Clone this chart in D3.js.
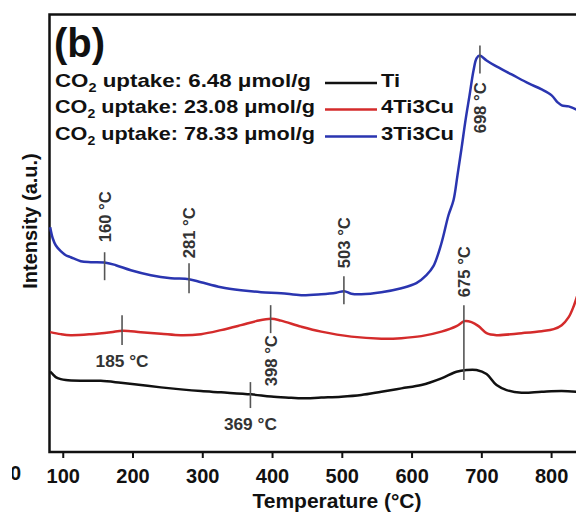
<!DOCTYPE html>
<html>
<head>
<meta charset="utf-8">
<script src="https://cdn.jsdelivr.net/npm/d3@7"></script>
<style>
  body { margin: 0; background: #fff; }
  text { font-family: 'Liberation Sans', Arial, sans-serif; font-weight: bold; }
</style>
</head>
<body>
<div id="graph-container"></div>
<script>
// TPD curves (temperature in °C, intensity in a.u.)
const tiTemp = [82, 85.6, 89.9, 97.1, 104.3, 125.8, 154.5, 183.3, 212, 240.7, 269.4, 298.1, 326.9, 370, 398.7, 427.4, 441.8, 470.5, 499.2, 527.9, 556.7, 585.4, 614.1, 642.8, 664.4, 678.7, 693.1, 707.5, 721.8, 736.2, 757.7, 786.5, 815.2, 838.2];
const tiValues = [80.5, 78, 75, 73, 72, 71.3, 71.3, 69.3, 67, 64.7, 62.7, 61, 59.7, 57.7, 55.5, 54.3, 53.7, 54.5, 55.3, 57, 60.3, 63.7, 67, 73.7, 80.3, 82, 82, 78, 67, 62, 59.3, 60.3, 61, 60.3];

const ti4Temp = [82, 97.1, 111.4, 140.2, 168.9, 186.1, 212, 240.7, 269.4, 298.1, 326.9, 355.6, 377.1, 398.7, 413, 441.8, 470.5, 513.6, 556.7, 585.4, 614.1, 642.8, 664.4, 675.9, 685.9, 696, 707.5, 721.8, 757.7, 786.5, 803.7, 815.2, 825.2, 832.4, 838.2];
const ti4Values = [120, 118, 117, 118, 120, 121.5, 120, 118.5, 117, 118, 122, 127, 131, 133.5, 131.5, 125.5, 120.5, 115.5, 113.5, 114, 116, 120.5, 126, 131, 130, 126, 119, 117, 119, 121, 123, 127, 135, 146, 158];

const ti3Temp = [82, 85.6, 89.9, 97.1, 104.3, 111.4, 125.8, 140.2, 161.7, 176.1, 197.6, 226.3, 255.1, 280.9, 298.1, 326.9, 355.6, 384.3, 413, 441.8, 470.5, 492, 503.5, 513.6, 527.9, 556.7, 585.4, 606.9, 621.3, 631.3, 642.8, 652.9, 660.1, 665.8, 671.6, 677.3, 683.1, 688.8, 693.1, 697.4, 707.5, 719, 743.4, 767.8, 786.5, 800.8, 809.4, 815.2, 825.2, 838.2];
const ti3Values = [225, 214, 207, 201, 197, 195, 191, 190, 189.5, 187, 182, 177, 174, 173, 170, 165, 162, 160, 159, 157, 158, 159.5, 161, 158.5, 158, 160, 164, 169, 177, 186, 209, 237, 252, 277, 304, 332, 357, 382, 394, 397, 392, 387, 378, 369, 363, 357, 350, 347, 346, 342];

const seriesNames = ['Ti', '4Ti3Cu', '3Ti3Cu'];
const seriesColors = ['#111111', '#d42b2b', '#2a35b0'];
const uptakeLabels = ['6.48', '23.08', '78.33'];
const xTicks = [100, 200, 300, 400, 500, 600, 700, 800];

// Peak markers: temperature, marker span (a.u.), label anchor (a.u.)
const peakTemps = [160, 281, 503, 698, 398, 675, 185, 369];
const peakFrom = [200, 189, 176, 407, 147, 147, 137, 70];
const peakTo = [172, 159, 148, 379, 119, 72, 107, 44];
const peakLabelAt = [210, 194, 184, 319, 64, 155, 85, 22];
const peakRotated = [true, true, true, true, true, true, false, false];

function zip(t, v) {
  return t.map((d, i) => [d, v[i]]);
}

function renderGraph() {
  const w = 576;
  const h = 512;
  const left = 49.5;
  const top = 14.5;
  const bottom = 452;

  const svg = d3
    .select('#graph-container')
    .append('svg')
    .attr('width', w)
    .attr('height', h);

  const xscale = d3.scaleLinear().domain([81, 840]).range([left, 579]);
  const yscale = d3.scaleLinear().domain([0, 438]).range([bottom, top]);

  // frame (right edge runs off the picture)
  svg
    .append('rect')
    .attr('x', left)
    .attr('y', top)
    .attr('width', 620 - left)
    .attr('height', bottom - top)
    .attr('fill', 'none')
    .attr('stroke', '#111')
    .attr('stroke-width', 2.5);

  // x axis
  const xAxis = d3.axisBottom(xscale).tickValues(xTicks).tickSize(6).tickSizeOuter(0);
  const gx = svg
    .append('g')
    .attr('transform', 'translate(0,' + bottom + ')')
    .call(xAxis);
  gx.select('.domain').remove();
  gx.selectAll('.tick line').attr('stroke', '#111').attr('stroke-width', 2);
  gx.selectAll('.tick text')
    .attr('font-size', 20)
    .attr('font-family', null)
    .attr('fill', '#111')
    .attr('dy', null)
    .attr('y', 31);

  // cropped tick label of the neighbouring panel
  svg.append('clipPath').attr('id', 'cut').append('rect')
    .attr('x', 12).attr('y', 440).attr('width', 30).attr('height', 60);
  svg.append('text')
    .attr('clip-path', 'url(#cut)')
    .attr('x', 21).attr('y', 480)
    .attr('text-anchor', 'end')
    .attr('font-size', 20)
    .attr('fill', '#111')
    .text('0');

  svg.append('text')
    .attr('x', 337).attr('y', 508)
    .attr('text-anchor', 'middle')
    .attr('font-size', 21)
    .attr('fill', '#111')
    .text('Temperature (°C)');

  svg.append('text')
    .attr('transform', 'translate(37,221) rotate(-90)')
    .attr('text-anchor', 'middle')
    .attr('font-size', 20)
    .attr('fill', '#111')
    .text('Intensity (a.u.)');

  svg.append('text')
    .attr('x', 54).attr('y', 57)
    .attr('font-size', 40)
    .attr('fill', '#111')
    .text('(b)');

  // curves
  const line = d3
    .line()
    .x((d) => xscale(d[0]))
    .y((d) => yscale(d[1]))
    .curve(d3.curveCatmullRom.alpha(0.5));

  const curves = [zip(tiTemp, tiValues), zip(ti4Temp, ti4Values), zip(ti3Temp, ti3Values)];
  svg
    .selectAll('path.curve')
    .data(curves)
    .enter()
    .append('path')
    .attr('class', 'curve')
    .attr('d', line)
    .attr('fill', 'none')
    .attr('stroke', (d, i) => seriesColors[i])
    .attr('stroke-width', 2.5)
    .attr('stroke-linejoin', 'round');

  // peak markers
  svg
    .selectAll('line.peak')
    .data(peakTemps)
    .enter()
    .append('line')
    .attr('class', 'peak')
    .attr('x1', (d) => xscale(d))
    .attr('x2', (d) => xscale(d))
    .attr('y1', (d, i) => yscale(peakFrom[i]))
    .attr('y2', (d, i) => yscale(peakTo[i]))
    .attr('stroke', '#555')
    .attr('stroke-width', 1.6);

  peakTemps.forEach((t, i) => {
    const x = xscale(t);
    const y = yscale(peakLabelAt[i]);
    const label = svg.append('text').attr('fill', '#333').attr('font-size', 17);
    if (peakRotated[i]) {
      // label at 398 °C hangs below its marker, the others stand on it
      label
        .attr('transform', 'translate(' + x + ',' + (i === 4 ? yscale(117) : y) + ') rotate(-90)')
        .attr('text-anchor', i === 4 ? 'end' : 'start')
        .attr('dy', '0.36em')
        .attr('textLength', 51)
        .attr('lengthAdjust', 'spacingAndGlyphs');
    } else {
      label
        .attr('x', x)
        .attr('y', y)
        .attr('text-anchor', 'middle')
        .attr('textLength', 53)
        .attr('lengthAdjust', 'spacingAndGlyphs');
    }
    label.text(t + ' °C');
  });

  // legend
  const rowY = [86.5, 113, 140];
  const rowLen = [256, 260, 260];
  uptakeLabels.forEach((u, i) => {
    const row = svg
      .append('text')
      .attr('x', 55)
      .attr('y', rowY[i])
      .attr('font-size', 18.5)
      .attr('fill', '#111')
      .attr('textLength', rowLen[i])
      .attr('lengthAdjust', 'spacingAndGlyphs');
    row.append('tspan').text('CO');
    row.append('tspan').attr('font-size', 12).attr('dy', 5).text('2');
    row.append('tspan').attr('dy', -5).text(' uptake: ' + u + ' μmol/g');

    svg
      .append('line')
      .attr('x1', 325)
      .attr('x2', 377)
      .attr('y1', rowY[i] - 3.5)
      .attr('y2', rowY[i] - 3.5)
      .attr('stroke', seriesColors[i])
      .attr('stroke-width', 2.5);

    svg
      .append('text')
      .attr('x', 381)
      .attr('y', rowY[i])
      .attr('font-size', 18.5)
      .attr('fill', '#111')
      .attr('textLength', i === 0 ? 19 : 73)
      .attr('lengthAdjust', 'spacingAndGlyphs')
      .text(seriesNames[i]);
  });
}

document.addEventListener('DOMContentLoaded', () => renderGraph());
</script>
</body>
</html>
